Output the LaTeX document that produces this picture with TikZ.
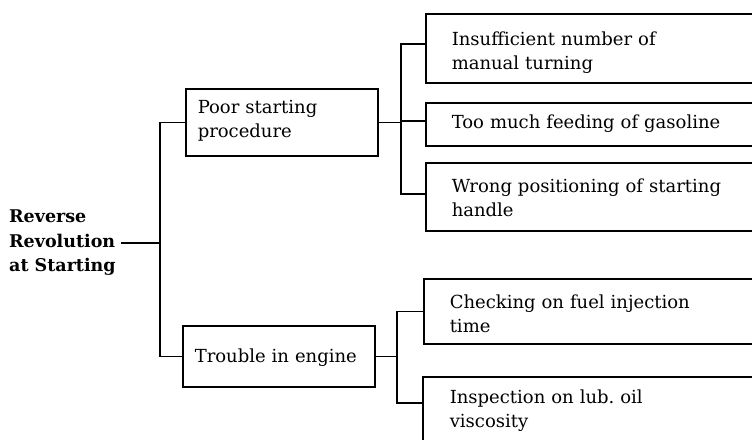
\documentclass[tikz,border=0pt]{standalone}
\usepackage{fontspec}
\setmainfont{DejaVu Serif}
\begin{document}
\begin{tikzpicture}[x=1pt,y=-1pt,
  every node/.style={font=\fontsize{18}{23.5}\selectfont},
  box/.style={draw, line width=1.5pt, anchor=north west, align=left, inner ysep=0pt, text height=14pt},
  midbox/.style={box, inner xsep=12pt, minimum width=192pt, text width=168pt},
  leafbox/.style={box, inner xsep=26pt, minimum width=400pt, text width=348pt},
  conn/.style={line width=1.5pt}]
\useasboundingbox (0,0) rectangle (752,439);
\clip (0,0) rectangle (752,439);
% root
\node[align=left, anchor=west, inner xsep=5pt, inner ysep=0pt,
      font=\fontsize{17.5}{24.5}\selectfont\bfseries] (root) at (4,243)
  {Reverse\\Revolution\\at Starting};
% middle level
\node[midbox, minimum height=67pt, text depth=31pt] (P) at (185,88) {Poor starting\\procedure};
\node[midbox, minimum height=61pt, text depth=1pt] (T) at (182,325) {Trouble in engine};
% leaves
\node[leafbox, minimum height=69pt, text depth=19pt] (b1) at (425,13) {Insufficient number of\\manual turning};
\node[leafbox, minimum height=43pt, text depth=5pt] (b2) at (425,102) {Too much feeding of gasoline};
\node[leafbox, minimum height=68pt, text depth=22pt] (b3) at (425,162) {Wrong positioning of starting\\handle};
\node[leafbox, minimum height=65pt, text depth=19pt] (b4) at (423,278) {Checking on fuel injection\\time};
\node[leafbox, draw=none, minimum height=56pt, text depth=18pt] (b5) at (423,377) {Inspection on lub.\ oil\\viscosity};
\draw[conn] ([yshift=-70pt]b5.north west) -- (b5.north west) -- (b5.north east) -- ++(0,-70pt);
% junctions
\coordinate (j1) at (160,0);
\coordinate (j2) at (401,0);
\coordinate (j3) at (397,0);
% connectors level 1
\draw[conn] (root.east) -- (root.east -| j1);
\draw[conn] (P.west) -- (P.west -| j1) -- (T.west -| j1) -- (T.west);
% connectors from P
\draw[conn] (P.east) -- (P.east -| j2);
\draw[conn] ([yshift=4.5pt]b1.west) -- ([yshift=4.5pt]b1.west -| j2) -- ([yshift=3pt]b3.west -| j2) -- ([yshift=3pt]b3.west);
\draw[conn] ([yshift=3.5pt]b2.west) -- ([yshift=3.5pt]b2.west -| j2);
% connectors from T
\draw[conn] (T.east) -- (T.east -| j3);
\draw[conn] (b4.west) -- (b4.west -| j3) -- ([yshift=3pt]b5.west -| j3) -- ([yshift=3pt]b5.west);
\end{tikzpicture}
\end{document}
